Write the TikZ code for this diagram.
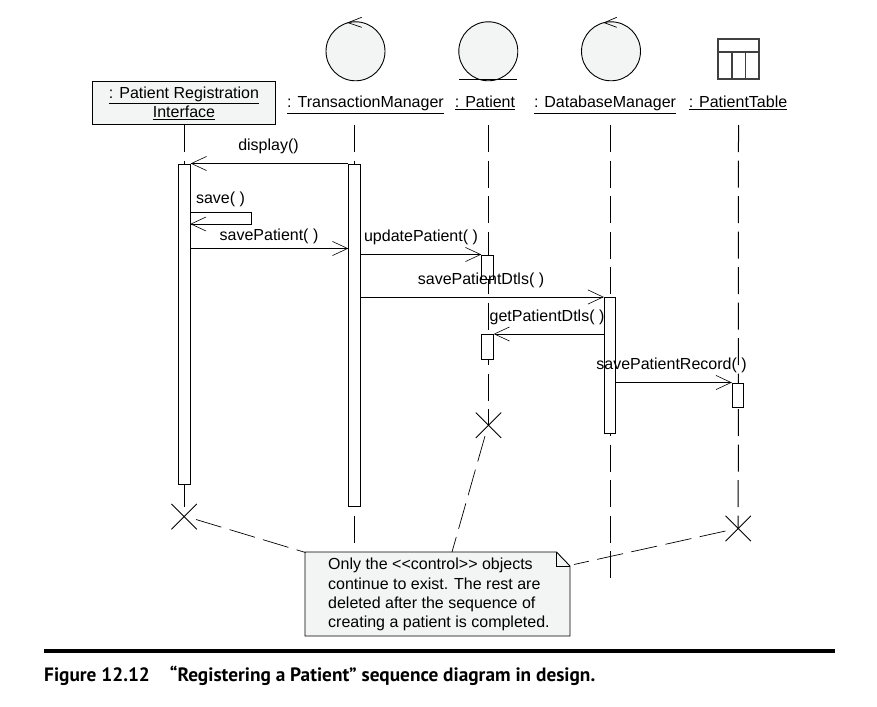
\documentclass[tikz,border=0pt]{standalone}
\usepackage{fontspec}
\setmainfont{Liberation Sans}
\newfontfamily\capfont{PT Sans}
\usetikzlibrary{arrows.meta,shapes.misc}
\definecolor{shade}{RGB}{243,245,244}
\newcommand{\ul}[1]{\underline{#1}}
\tikzset{
  obj/.style={font=\fontsize{16}{19}\selectfont, inner sep=0pt, align=center},
  msg/.style={font=\fontsize{16}{19}\selectfont, inner sep=0pt, anchor=base},
  bar/.style={draw, fill=white, line width=.9pt, minimum width=11.5pt, inner sep=0pt, anchor=north},
  life/.style={line width=1pt, dash pattern=on 27pt off 8.5pt},
  call/.style={line width=.9pt, -{Straight Barb[length=15pt,width=14pt,line width=.6pt]}},
  link/.style={line width=.7pt, dash pattern=on 26.5pt off 8.5pt},
  kill/.style={cross out, draw, line width=.9pt, minimum size=24.5pt, inner sep=0pt},
  icon/.style={draw, circle, fill=shade, line width=.9pt, minimum size=59pt, inner sep=0pt}
}
\begin{document}
\begin{tikzpicture}[x=1pt, y=-1pt]
  \useasboundingbox (0,0) rectangle (877,706);
  % objects
  \node[draw, fill=shade, line width=.9pt, minimum width=183pt, minimum height=43pt, obj] (pri) at (184,103) {\ul{: Patient Registration}\\\ul{Interface}};
  \node[icon] (tmicon) at (355.5,51.3) {};
  \node[icon] (paicon) at (488.3,51.3) {};
  \node[icon] (dbicon) at (611,51.3) {};
  \node[obj, anchor=base] (tm) at (365.5,108) {\ul{: TransactionManager}};
  \node[obj, anchor=base] (pa) at (485,108) {\ul{: Patient}};
  \node[obj, anchor=base] (db) at (605,108) {\ul{: DatabaseManager}};
  \node[obj, anchor=base] (pt) at (738,108) {\ul{: PatientTable}};
  % icon details
  \draw[line width=.9pt] (459,79.5) -- (517,79.5);
  \draw[line width=.7pt] (361.7,17.3) -- (348,22.7) -- (361.7,27.3);
  \draw[line width=.7pt] (616.7,17.3) -- (604.3,22.7) -- (616.7,27.3);
  \draw[line width=1.1pt, draw=black!75] (718,39) rectangle (759,79) (718,52) -- (759,52) (732,52) -- (732,79) (745.5,52) -- (745.5,79);
  % lifelines
  \coordinate (pri1) at (184,125);
  \coordinate (tm1) at (354,125);
  \coordinate (pa1) at (488.5,125);
  \coordinate (db1) at (610,125);
  \coordinate (pt1) at (738.5,125);
  \coordinate (pri2) at (184,508);
  \coordinate (tm2) at (354,544);
  \coordinate (db2) at (610,579);
  % destroy marks
  \node[kill] (xA) at (184.2,516.6) {};
  \node[kill] (xB) at (488.5,425.3) {};
  \node[kill] (xC) at (738.2,528.5) {};
  \draw[life] (pri1) -- (pri2);
  \draw[life] (tm1) -- (tm2);
  \draw[life] (pa1) -- (xB.center);
  \draw[life] (db1) -- (db2);
  \draw[life] (pt1) -- (xC.center);
  % activations
  \node[bar, minimum height=320pt] (barA) at (184.5,163.5) {};
  \node[bar, minimum height=342.5pt] (barB) at (354.5,163.5) {};
  \node[bar, minimum height=24pt] (barC) at (487.5,254.5) {};
  \node[bar, minimum height=24.5pt] (barD) at (487.5,334) {};
  \node[bar, minimum height=136pt] (barE) at (610,297) {};
  \node[bar, minimum height=24.5pt] (barF) at (738,382.5) {};
  % messages
  \draw[call] (barB.north west) -- (barA.north east);
  \coordinate (s1) at (190.3,212);
  \coordinate (s2) at (251.5,212);
  \coordinate (s3) at (251.5,224);
  \coordinate (s4) at (190.3,224);
  \draw[call] (s1) -- (s2) -- (s3) -- (s4);
  \coordinate (m1) at (190.3,248.5);
  \coordinate (m2) at (348.3,248.5);
  \draw[call] (m1) -- (m2);
  \coordinate (m3) at (360.3,254.5);
  \draw[call] (m3) -- (barC.north west);
  \coordinate (m4) at (360.3,297);
  \draw[call] (m4) -- (barE.north west);
  \coordinate (m5) at (604.2,334);
  \draw[call] (m5) -- (barD.north east);
  \coordinate (m6) at (615.8,382.5);
  \draw[call] (m6) -- (barF.north west);
  % labels
  \node[msg] (l1) at (268.5,150.5) {display()};
  \node[msg] (l2) at (220.5,203) {save( )};
  \node[msg] (l3) at (269,240) {savePatient( )};
  \node[msg] (l4) at (421,241) {updatePatient( )};
  \node[msg] (l5) at (481,284) {savePatientDtls( )};
  \node[msg] (l6) at (547,321) {getPatientDtls( )};
  \node[msg] (l7) at (671.5,369) {savePatientRecord( )};
  % note
  \draw[line width=.9pt, fill=shade] (305,552) -- (556.5,552) -- (570,566) -- (570,636) -- (305,636) -- cycle;
  \draw[line width=.7pt] (556.5,552) -- (556.5,566) -- (570,566);
  \node[font=\fontsize{16}{19.3}\selectfont, align=left, inner sep=0pt, anchor=north west] (note) at (328,558) {Only the <{}<control>{}> objects\\continue to exist. The rest are\\deleted after the sequence of\\creating a patient is completed.};
  \coordinate (n1) at (305.5,552.5);
  \coordinate (n2) at (452,552);
  \coordinate (n3) at (574,564.5);
  \coordinate (c1) at (196,519.5);
  \coordinate (c2) at (485,436);
  \coordinate (c3) at (725.5,531);
  \draw[link] (c1) -- (n1);
  \draw[link] (c2) -- (n2);
  \draw[link] (c3) -- (n3);
  % caption
  \draw[line width=3.7pt] (44,651) -- (835,651);
  \node[font=\capfont\bfseries\fontsize{19.3}{21}\selectfont, inner sep=0pt, anchor=base west] (cap) at (44,681) {Figure 12.12\hspace{20pt}“Registering a Patient” sequence diagram in design.};
\end{tikzpicture}
\end{document}
